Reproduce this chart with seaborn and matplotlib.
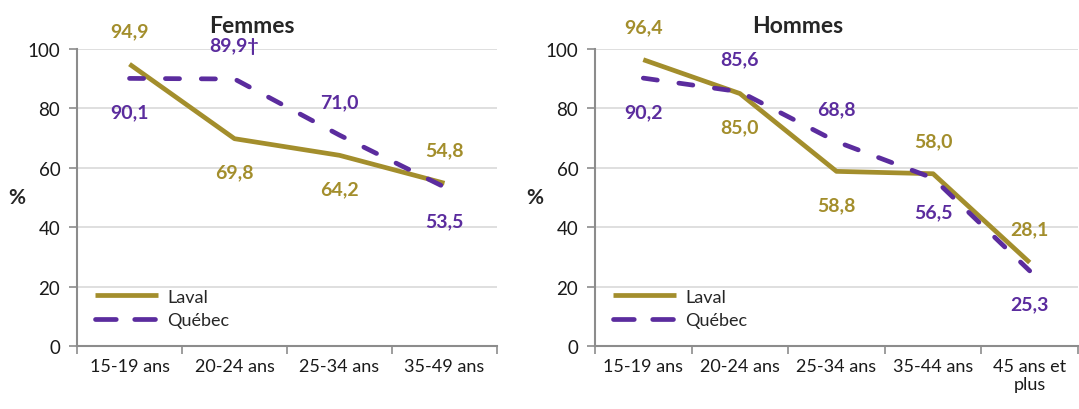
import matplotlib
matplotlib.use("Agg")
import matplotlib.pyplot as plt
import seaborn as sns
import pandas as pd
import numpy as np

# ---- data ----
cats_f = ["15-19 ans", "20-24 ans", "25-34 ans", "35-49 ans"]
laval_f = [94.9, 69.8, 64.2, 54.8]
quebec_f = [90.1, 89.9, 71.0, 53.5]
labels_laval_f = ["94,9", "69,8", "64,2", "54,8"]
labels_quebec_f = ["90,1", "89,9†", "71,0", "53,5"]
# +1 = above, -1 = below
pos_laval_f = [1, -1, -1, 1]
pos_quebec_f = [-1, 1, 1, -1]

cats_h = ["15-19 ans", "20-24 ans", "25-34 ans", "35-44 ans", "45 ans et\nplus"]
laval_h = [96.4, 85.0, 58.8, 58.0, 28.1]
quebec_h = [90.2, 85.6, 68.8, 56.5, 25.3]
labels_laval_h = ["96,4", "85,0", "58,8", "58,0", "28,1"]
labels_quebec_h = ["90,2", "85,6", "68,8", "56,5", "25,3"]
pos_laval_h = [1, -1, -1, 1, 1]
pos_quebec_h = [-1, 1, 1, -1, -1]

series = ["Laval", "Québec"]
GOLD = "#A38E2C"
PURPLE = "#5B2C9E"

sns.set_style("white")
plt.rcParams["font.family"] = ["Lato", "DejaVu Sans"]

fig = plt.figure(figsize=(10.79, 4.10), dpi=100)
W, H = 1079, 410
ax1 = fig.add_axes([77 / W, (H - 347) / H, (497 - 77) / W, (347 - 50) / H])
ax2 = fig.add_axes([595 / W, (H - 347) / H, (1078 - 595) / W, (347 - 50) / H])


def draw(ax, cats, laval, quebec, lab_l, lab_q, pos_l, pos_q, title, title_x):
    n = len(cats)
    df = pd.DataFrame({
        "x": list(range(n)) * 2,
        "val": list(laval) + list(quebec),
        "serie": [series[0]] * n + [series[1]] * n,
    })
    sns.lineplot(data=df, x="x", y="val", hue="serie", style="serie",
                 palette={series[0]: GOLD, series[1]: PURPLE},
                 dashes={series[0]: "", series[1]: (3.0, 4.6)},
                 linewidth=3.4, ax=ax, legend=True, sort=False)
    for line in ax.get_lines():
        line.set_dash_capstyle("round")
        line.set_solid_capstyle("butt")
    lines = ax.get_lines()
    if len(lines) >= 2:
        lines[0].set_zorder(3)
        lines[1].set_zorder(4)

    for i in range(n):
        ax.annotate(lab_l[i], (i, laval[i]), xytext=(0, 24 * pos_l[i]),
                    textcoords="offset points", ha="center", va="center",
                    color=GOLD, fontsize=14, fontweight="bold")
        ax.annotate(lab_q[i], (i, quebec[i]), xytext=(0, 24 * pos_q[i]),
                    textcoords="offset points", ha="center", va="center",
                    color=PURPLE, fontsize=14, fontweight="bold")

    ax.set_xlim(-0.5, n - 0.5)
    ax.set_ylim(0, 100)
    ax.set_yticks(np.arange(0, 101, 20))
    ax.set_xticks(np.arange(-0.5, n, 1.0))
    ax.set_xticklabels([])
    ax.set_xticks(np.arange(n), minor=True)
    ax.set_xticklabels(cats, minor=True, fontsize=13, color="#1a1a1a",
                       linespacing=1.1)
    ax.tick_params(axis="x", which="major", direction="out", length=6,
                   width=1.2, color="#8c8c8c", bottom=True)
    ax.tick_params(axis="x", which="minor", length=0, pad=9)
    ax.tick_params(axis="y", direction="out", length=6, width=1.2,
                   color="#8c8c8c", left=True, labelsize=13.5,
                   labelcolor="#1a1a1a", pad=6)
    ax.grid(axis="y", color="#d9d9d9", linewidth=1.2)
    ax.set_axisbelow(True)
    for s in ["top", "right"]:
        ax.spines[s].set_visible(False)
    for s in ["left", "bottom"]:
        ax.spines[s].set_color("#8c8c8c")
        ax.spines[s].set_linewidth(1.5)
    ax.set_xlabel("")
    ax.set_ylabel("%", rotation=0, fontsize=15, fontweight="bold",
                  labelpad=8, va="center")
    ax.set_title(title, fontsize=16.5, fontweight="bold", x=title_x, pad=12)
    leg = ax.legend(loc="lower left", bbox_to_anchor=(0.0, 0.0), frameon=False,
                    fontsize=13, handlelength=3.5, handletextpad=0.5,
                    labelspacing=0.4, borderaxespad=0.6)
    leg_lines = leg.get_lines()
    for lh in leg_lines:
        lh.set_linewidth(3.4)
        lh.set_dash_capstyle("round")
    if len(leg_lines) >= 2:
        leg_lines[1].set_dashes((4.4, 3.9))


draw(ax1, cats_f, laval_f, quebec_f, labels_laval_f, labels_quebec_f,
     pos_laval_f, pos_quebec_f, "Femmes", 0.417)
draw(ax2, cats_h, laval_h, quebec_h, labels_laval_h, labels_quebec_h,
     pos_laval_h, pos_quebec_h, "Hommes", 0.42)

fig.savefig("out.png", dpi=100)
